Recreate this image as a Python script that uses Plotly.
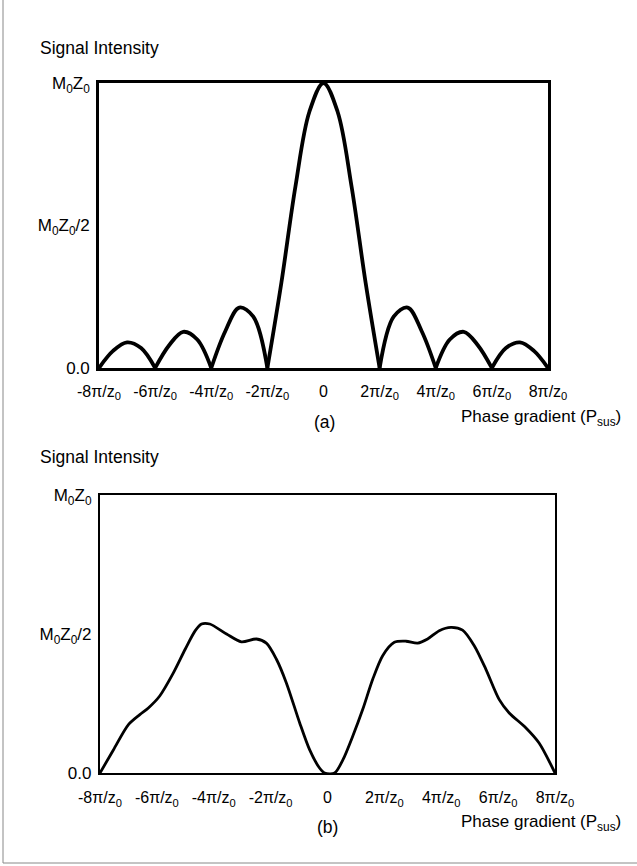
import plotly.graph_objects as go

W, H = 637, 866

# ---- data (x in units of pi/z0) ----
top_x = [-8, -7.5, -7, -6.5, -6, -5.5, -5, -4.5, -4, -3.5, -3, -2.5, -2, -1.5, -1, -0.5,
         0, 0.5, 1, 1.5, 2, 2.5, 3, 3.5, 4, 4.5, 5, 5.5, 6, 6.5, 7, 7.5, 8]
top_y = [0, 0.06, 0.09, 0.07, 0, 0.08, 0.127, 0.10, 0, 0.129, 0.212, 0.18, 0, 0.30, 0.637, 0.90,
         1.0, 0.90, 0.637, 0.30, 0, 0.18, 0.212, 0.129, 0, 0.10, 0.127, 0.08, 0, 0.07, 0.09, 0.06, 0]

bot_x = [-8, -7.53, -7.0, -6.6, -6.3, -5.9, -5.42, -5.0, -4.65, -4.43, -4.14, -3.55, -3.03, -2.5,
         -2.15, -1.8, -1.45, -0.98, -0.63, -0.28, -0.1, 0.25, 0.54, 0.89, 1.24, 1.59, 1.94, 2.35,
         2.76, 3.17, 3.52, 3.93, 4.34, 4.75, 5.16, 5.57, 6.04, 6.39, 6.98, 7.44, 8]
bot_y = [0, 0.083, 0.174, 0.21, 0.234, 0.277, 0.36, 0.446, 0.512, 0.536, 0.536, 0.50, 0.472, 0.482,
         0.467, 0.41, 0.325, 0.181, 0.084, 0.018, 0, 0, 0.047, 0.133, 0.229, 0.337, 0.422, 0.47,
         0.474, 0.467, 0.482, 0.512, 0.524, 0.514, 0.458, 0.373, 0.264, 0.216, 0.162, 0.108, 0]

x_tickvals = [-8, -6, -4, -2, 0, 2, 4, 6, 8]
x_ticktext = ["-8π/z<sub>0</sub>", "-6π/z<sub>0</sub>", "-4π/z<sub>0</sub>", "-2π/z<sub>0</sub>", "0",
              "2π/z<sub>0</sub>", "4π/z<sub>0</sub>", "6π/z<sub>0</sub>", "8π/z<sub>0</sub>"]
y_tickvals = [0, 0.5, 1.0]
y_ticktext = ["0.0", "M<sub>0</sub>Z<sub>0</sub>/2", "M<sub>0</sub>Z<sub>0</sub>"]

FONT = "Liberation Sans, Arial, sans-serif"

def px(x):
    return x / W

def py(y):
    return 1 - y / H

fig = go.Figure()

# top curve: split into lobes at zeros so cusps stay sharp
seg_x, seg_y = [top_x[0]], [top_y[0]]
for xv, yv in zip(top_x[1:], top_y[1:]):
    seg_x.append(xv)
    seg_y.append(yv)
    if yv == 0:
        fig.add_trace(go.Scatter(x=seg_x, y=seg_y, mode="lines", xaxis="x", yaxis="y",
                                 line=dict(color="black", width=3.8, shape="spline", smoothing=1),
                                 showlegend=False, hoverinfo="skip", cliponaxis=False))
        seg_x, seg_y = [xv], [yv]

fig.add_trace(go.Scatter(x=bot_x, y=bot_y, mode="lines", xaxis="x2", yaxis="y2",
                         line=dict(color="black", width=2.8, shape="spline", smoothing=0.8),
                         showlegend=False, hoverinfo="skip"))

axis_common = dict(showgrid=False, zeroline=False, showline=True, mirror=True,
                   linecolor="black", ticks="", fixedrange=True, automargin=False)

fig.update_layout(
    width=W, height=H, autosize=False,
    margin=dict(l=0, r=0, t=0, b=0, pad=0),
    paper_bgcolor="white", plot_bgcolor="white",
    font=dict(family=FONT, color="black"),
    xaxis=dict(domain=[px(99), px(548)], range=[-8, 8], anchor="y",
               tickvals=x_tickvals, ticktext=x_ticktext, tickfont=dict(size=16),
               ticklabelstandoff=7, linewidth=2.6, **axis_common),
    yaxis=dict(domain=[py(368), py(83)], range=[0, 1.0], anchor="x",
               tickvals=y_tickvals, ticktext=y_ticktext, tickfont=dict(size=17),
               ticklabelstandoff=3, linewidth=2.6, **axis_common),
    xaxis2=dict(domain=[px(100), px(555)], range=[-8, 8], anchor="y2",
                tickvals=x_tickvals, ticktext=x_ticktext, tickfont=dict(size=16),
                ticklabelstandoff=9, linewidth=2.2, **axis_common),
    yaxis2=dict(domain=[py(773), py(495)], range=[0, 1.0], anchor="x2",
                tickvals=y_tickvals, ticktext=y_ticktext, tickfont=dict(size=17),
                ticklabelstandoff=3, linewidth=2.2, **axis_common),
)

ann = [
    dict(text="Signal Intensity", x=px(38), y=py(48), xanchor="left", size=17.5),
    dict(text="(a)", x=px(324), y=py(422), xanchor="center", size=17.5),
    dict(text="Phase gradient (P<sub>sus</sub>)", x=px(459), y=py(418), xanchor="left", size=17),
    dict(text="Signal Intensity", x=px(38), y=py(457), xanchor="left", size=17.5),
    dict(text="(b)", x=px(327), y=py(827), xanchor="center", size=17.5),
    dict(text="Phase gradient (P<sub>sus</sub>)", x=px(459), y=py(823), xanchor="left", size=17),
]
for a in ann:
    fig.add_annotation(text=a["text"], x=a["x"], y=a["y"], xref="paper", yref="paper",
                       xanchor=a["xanchor"], yanchor="middle", showarrow=False,
                       font=dict(size=a["size"], family=FONT, color="black"))

# thin outer frame (left and bottom edges of the scanned page)
fig.add_shape(type="line", xref="paper", yref="paper", x0=px(3), x1=px(3), y0=py(0), y1=py(863),
              line=dict(color="#888888", width=1))
fig.add_shape(type="line", xref="paper", yref="paper", x0=px(3), x1=px(637), y0=py(863), y1=py(863),
              line=dict(color="#888888", width=1))

fig.write_html("out.html", config={"responsive": False, "displayModeBar": False},
               post_script="document.body.style.margin='0px';document.body.style.overflow='hidden';")
